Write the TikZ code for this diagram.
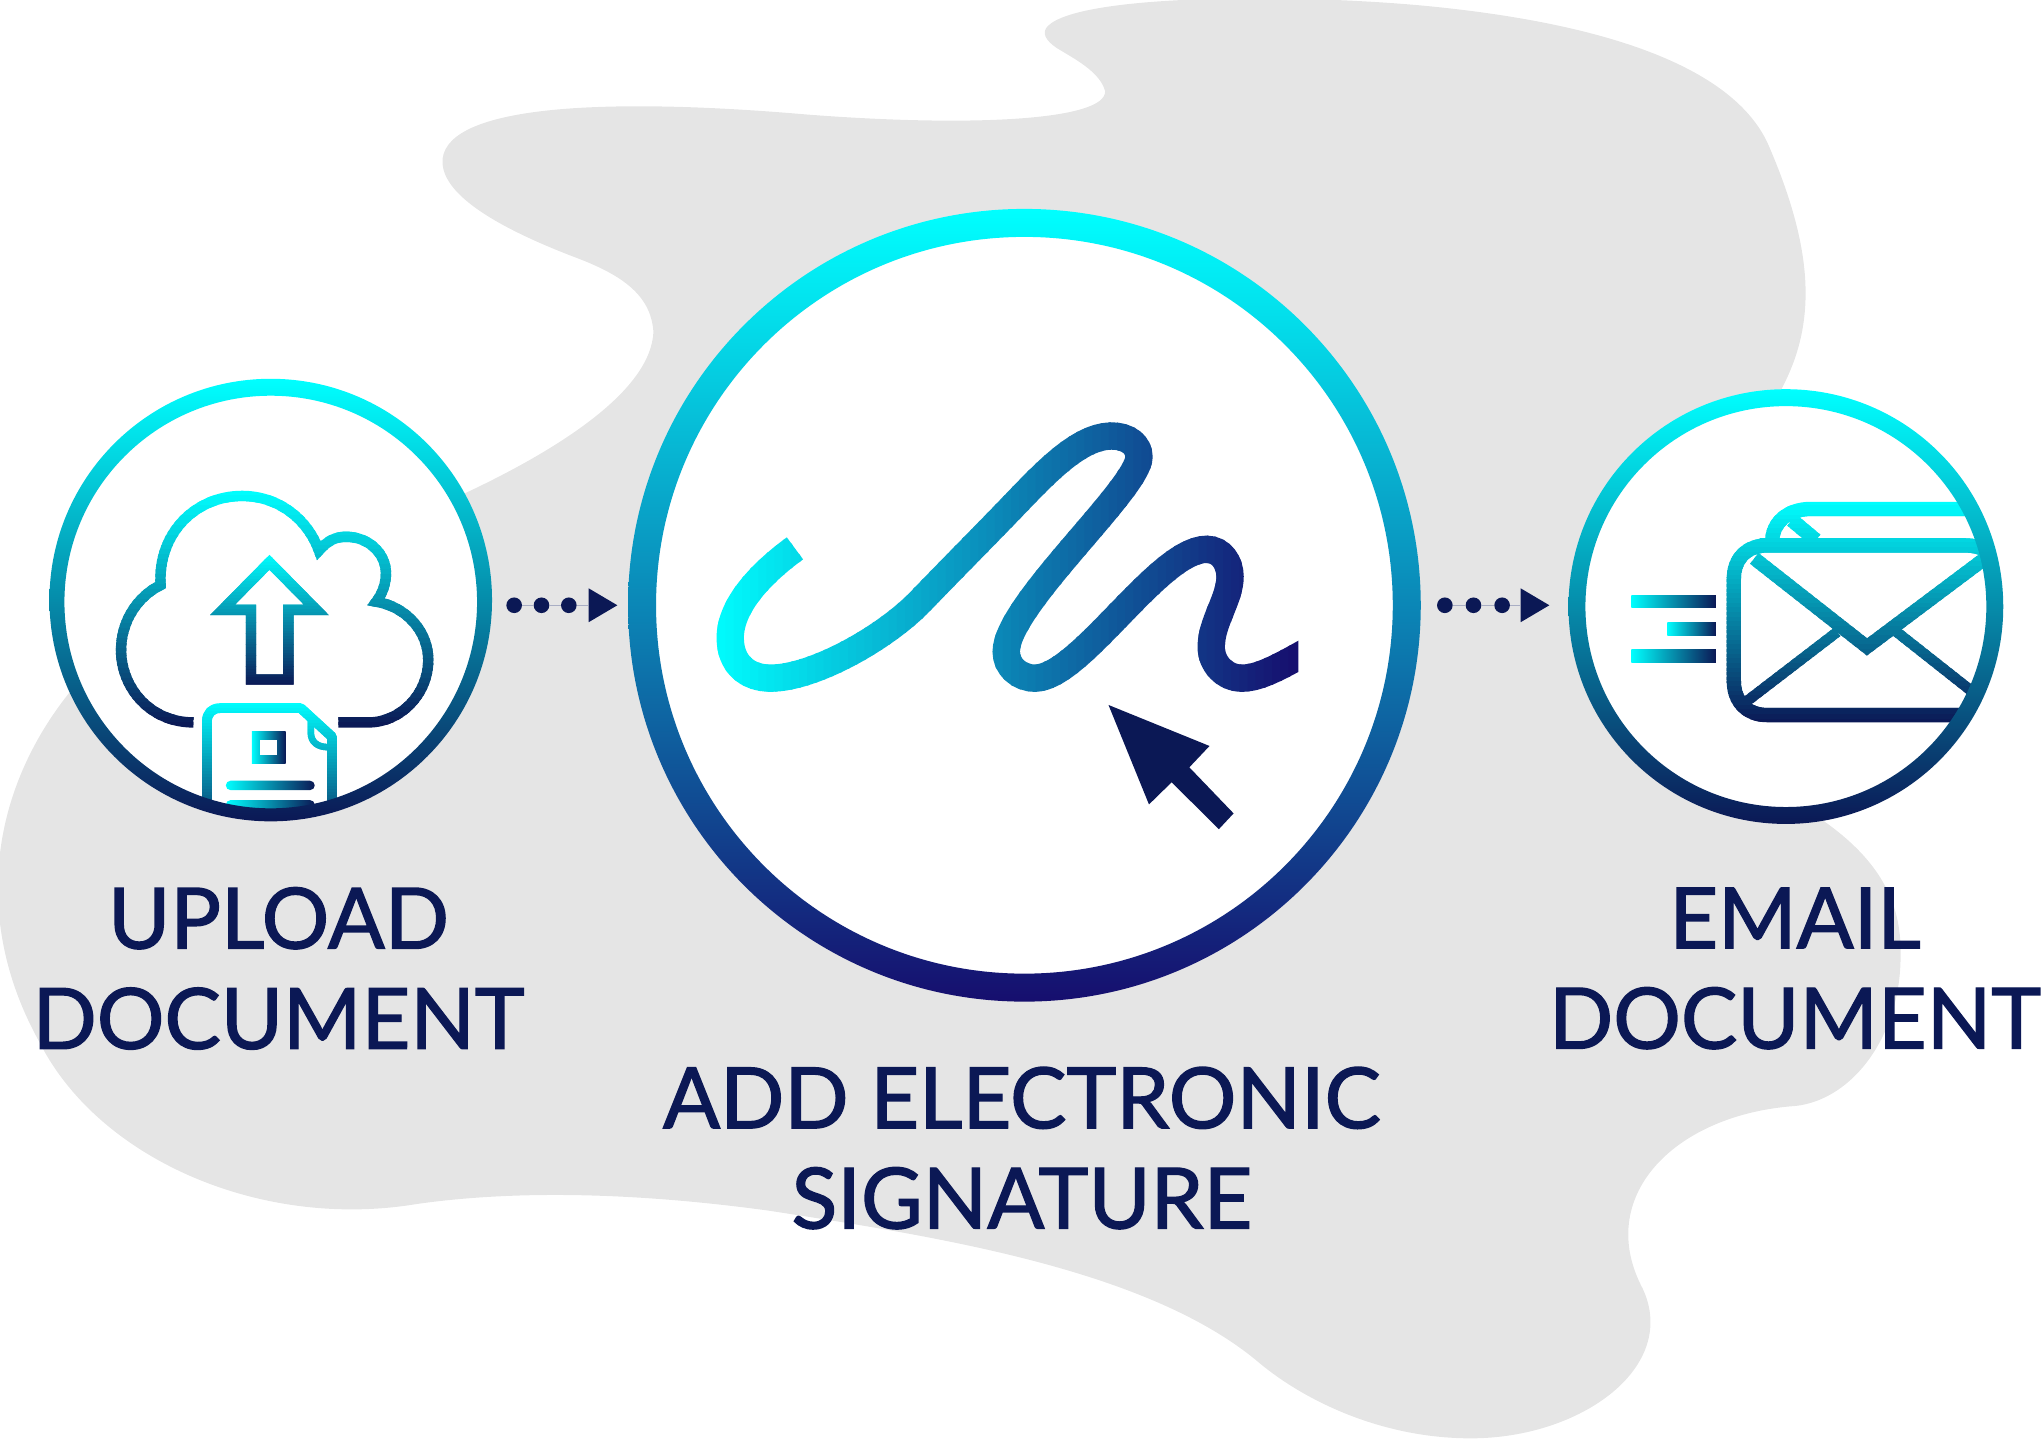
\documentclass[tikz,border=0pt]{standalone}
\usepackage{fontspec}
\setmainfont[FakeBold=1.6]{Lato}
\usepackage{tikz}
\usetikzlibrary{shapes.geometric, positioning, calc}
\definecolor{cyanc}{HTML}{00FFFF}
\definecolor{navyc}{HTML}{0B1855}
\definecolor{violc}{HTML}{160E6E}
\definecolor{blobc}{HTML}{E5E5E5}
\definecolor{linkc}{HTML}{A9AEC4}
\newcommand{\un}{0.026cm}
\newcommand{\gradstroke}[4]{%
  \foreach \k in {0,...,47}{
    \pgfmathsetmacro{\pc}{100*(\k+0.5)/48}
    \pgfmathsetmacro{\ya}{#1+(#2-#1)*(\k/48)}
    \pgfmathsetmacro{\yb}{#1+(#2-#1)*((\k+1)/48)+1.5}
    \begin{scope}
      \clip (0,\ya) rectangle (1568,\yb);
      \draw[#3,color=navyc!\pc!cyanc] #4;
    \end{scope}
  }}
\newcommand{\gradstrokex}[4]{%
  \foreach \k in {0,...,71}{
    \pgfmathsetmacro{\pc}{100*(\k+0.5)/72}
    \pgfmathsetmacro{\xa}{#1+(#2-#1)*(\k/72)}
    \pgfmathsetmacro{\xb}{#1+(#2-#1)*((\k+1)/72)+1.5}
    \begin{scope}
      \clip (\xa,0) rectangle (\xb,1106);
      \draw[#3,color=violc!\pc!cyanc] #4;
    \end{scope}
  }}
\tikzset{
  disc/.style={circle,fill=white,inner sep=0pt},
  ringshade/.style={top color=cyanc,bottom color=navyc,even odd rule},
  stepdot/.style={circle,fill=navyc,inner sep=0pt,minimum size=12*\un},
  steptip/.style={isosceles triangle,isosceles triangle stretches,fill=navyc,inner sep=0pt,
    minimum height=22*\un,minimum width=26*\un,anchor=west},
  linkline/.style={linkc,line width=0.6pt},
  steplabel/.style={text=navyc,align=center,font=\fontsize{48}{57}\selectfont},
  thinstroke/.style={line width=8*\un},
  barfill/.style={left color=cyanc,right color=navyc}
}
\begin{document}
\begin{tikzpicture}[x=0.026cm,y=-0.026cm]
  \useasboundingbox (0,0) rectangle (1568,1105.5);
  % backdrop
  \fill[blobc] (805,20) .. controls (830,-5) and (1000,-5) .. (1100,5)
    .. controls (1230,18) and (1330,50) .. (1358,110)
    .. controls (1395,195) and (1395,250) .. (1368,300)
    -- (1400,630) .. controls (1450,665) and (1462,700) .. (1460,740)
    .. controls (1458,800) and (1420,848) .. (1375,850)
    .. controls (1285,858) and (1225,920) .. (1262,990)
    .. controls (1290,1050) and (1215,1105) .. (1130,1105)
    .. controls (1060,1105) and (1000,1075) .. (965,1045)
    .. controls (880,975) and (720,950) .. (590,930)
    .. controls (480,915) and (390,915) .. (320,925)
    .. controls (200,945) and (75,890) .. (30,800)
    .. controls (-20,710) and (-10,610) .. (55,530)
    -- (355,380) .. controls (430,345) and (500,300) .. (502,255)
    .. controls (500,225) and (475,210) .. (440,197)
    .. controls (370,170) and (338,145) .. (340,122)
    .. controls (345,80) and (470,75) .. (620,88)
    .. controls (750,98) and (850,92) .. (849,70)
    .. controls (845,55) and (825,45) .. (812,37)
    .. controls (803,31) and (800,25) .. (805,20) -- cycle;
  \node[disc,minimum size=332*\un] (upload) at (208,461) {};
  \node[disc,minimum size=600*\un] (esign) at (787,465) {};
  \node[disc,minimum size=326*\un] (email) at (1372,466) {};
  % cloud and document
  \begin{scope}
    \clip ($(upload.center)+(0,1.5)$) circle [radius=159.5];
    \gradstroke{377}{559}{thinstroke}{(148.6,555) .. controls (115,555) and (93,528) .. (93,499.4)
      .. controls (93,477) and (106,458) .. (123.4,449.5)
      .. controls (121,410) and (150,381) .. (186,381)
      .. controls (213,381) and (236,398) .. (245,423)
      .. controls (252,415) and (258,412.4) .. (266,412.4)
      .. controls (283,412.4) and (296.5,425) .. (296.5,440.5)
      .. controls (296.5,448) and (294,456) .. (289,462.3)
      .. controls (312,466) and (329,485) .. (329,507)
      .. controls (329,533) and (308,555) .. (283,555) -- (260,555)}
    \gradstroke{426}{527}{thinstroke}{(207,432) -- (243,468.5) -- (221.6,468.5) -- (221.6,522)
      -- (192.8,522) -- (192.8,468.5) -- (171,468.5) -- cycle}
    \gradstroke{540}{650}{line width=7.5*\un,line join=round}{(159,640) -- (159,554)
      .. controls (159,548) and (163,544) .. (169,544) -- (231,544) -- (255,566) -- (255,640)}
    \gradstroke{540}{650}{line width=5*\un}{(238.8,553) -- (238.8,563) .. controls (238.8,570) and (244,574) .. (252,574)}
    \shade[barfill] (193.5,562) rectangle (219.4,586.5);
    \fill[white] (199.6,568.6) rectangle (213,580);
    \shade[barfill,rounded corners=3.6*\un] (173.5,599.8) rectangle (241.8,607);
    \shade[barfill,rounded corners=3.6*\un] (173.5,614.7) rectangle (241.8,622);
  \end{scope}
  % signature and pointer
  \gradstrokex{545}{996}{line width=21*\un}{(610.7,421.3) .. controls (585,440) and (561,465) .. (561,490)
    .. controls (561,510) and (574,521) .. (592,521) .. controls (625,521) and (680,490) .. (707,462)
    .. controls (735,433) and (757,411) .. (781,386) .. controls (805,361) and (830,335) .. (854,335)
    .. controls (867,335) and (875,342) .. (875,351) .. controls (875,375) and (773,465) .. (773,500.7)
    .. controls (773,512) and (783,521) .. (795,521) .. controls (830,521) and (890,422) .. (927,422)
    .. controls (938,422) and (945,432) .. (945,443) .. controls (945,460) and (930.5,478) .. (930.5,497)
    .. controls (930.5,510) and (941,521) .. (954,521) .. controls (967,521) and (982,513) .. (1005,500)}
  \fill[navyc] (851.6,541.6) -- (929.2,573.1) -- (913.7,589.5) -- (947.7,624.9)
    -- (936.4,637) -- (900.1,601) -- (882.7,618) -- cycle;
  % envelope
  \shade[barfill] (1253.2,457.2) rectangle (1318.2,467);
  \shade[barfill] (1280.9,478.2) rectangle (1318.2,488);
  \shade[barfill] (1253.2,499) rectangle (1318.2,509);
  \begin{scope}
    \clip (email.center) circle [radius=158];
    \gradstroke{385}{556}{line width=11*\un}{(1510,391) -- (1391,391) .. controls (1373,391) and (1361.5,402) .. (1361.5,416)
      (1376.6,399.6) -- (1395,415)}
    \gradstroke{385}{556}{line width=11*\un}{(1352,419) -- (1510,419) .. controls (1522,419) and (1534,425) .. (1536,435)
      -- (1536,530) -- (1510,549.4) -- (1358,549.4) .. controls (1342,549.4) and (1332,539) .. (1332,523)
      -- (1332,445) .. controls (1332,429) and (1342,419) .. (1358,419)}
    \gradstroke{385}{556}{line width=10.5*\un}{(1347.7,429) -- (1434.3,497) -- (1525,429)}
    \gradstroke{385}{556}{thinstroke}{(1411.5,485.4) -- (1341.6,539) (1457,485.4) -- (1516,532)}
  \end{scope}
  % rings
  \shade[ringshade] (upload.center) circle [radius=170] ($(upload.center)+(0,1.5)$) circle [radius=158.5];
  \shade[ringshade,bottom color=violc] (esign.center) circle [radius=304.5] (esign.center) circle [radius=283];
  \shade[ringshade] (email.center) circle [radius=167] (email.center) circle [radius=154];
  % step arrows
  \foreach \n/\xa/\xb/\xc/\xt in {a/395/416/437/452,b/1110/1132/1154/1168}{
    \node[stepdot] (dot\n1) at (\xa,465) {};
    \node[stepdot] (dot\n2) at (\xb,465) {};
    \node[stepdot] (dot\n3) at (\xc,465) {};
    \node[steptip] (tip\n) at (\xt,465) {};
    \draw[linkline] (dot\n1) -- (dot\n2) (dot\n2) -- (dot\n3) (dot\n3) -- (tip\n.west);
  }
  \node[steplabel] (uploadlabel) at (214,744) {UPLOAD\\DOCUMENT};
  \node[steplabel] (esignlabel) at (785,882) {ADD ELECTRONIC\\SIGNATURE};
  \node[steplabel] (emaillabel) at (1379,744) {EMAIL\\DOCUMENT};
\end{tikzpicture}
\end{document}
